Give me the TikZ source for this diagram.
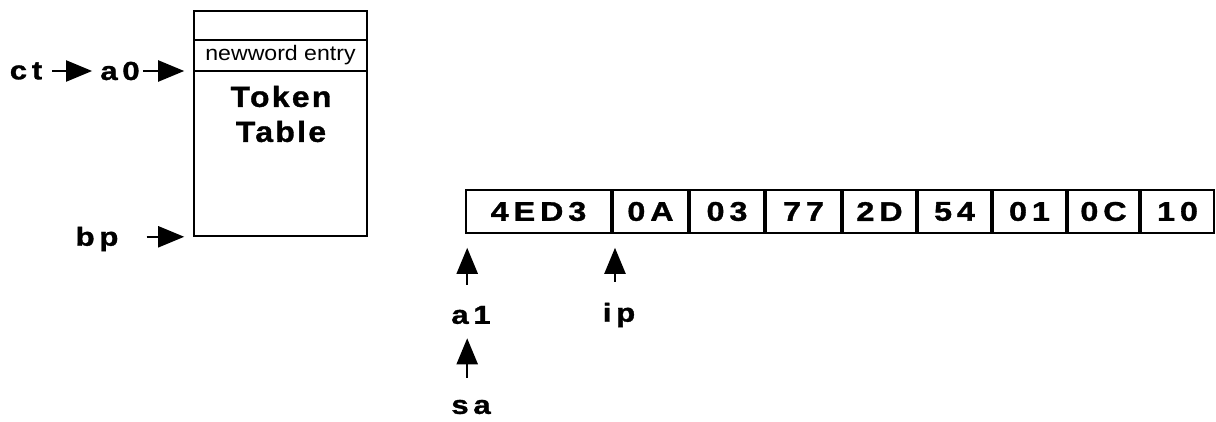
\documentclass[tikz,border=0pt]{standalone}
\usepackage{fontspec}
\setmainfont{Liberation Sans}
\newfontfamily\lblfont{Liberation Sans}[FakeStretch=1.2,LetterSpace=18,BoldFeatures={FakeBold=1.2}]
\newfontfamily\ttlfont{Liberation Sans}[FakeStretch=1.1,LetterSpace=8,BoldFeatures={FakeBold=1.2}]
\newfontfamily\nwfont{Liberation Sans}[FakeStretch=1.1]
\usetikzlibrary{arrows.meta,calc}
\begin{document}
\begin{tikzpicture}[x=1pt,y=-1pt,
  lbl/.style={inner sep=0pt,font=\lblfont\fontsize{26}{26}\selectfont\bfseries},
  box/.style={draw,line width=1.6pt,inner sep=0pt,minimum width=173pt},
  cell/.style={draw,line width=1.6pt,inner sep=0pt,minimum height=43pt,
    font=\lblfont\fontsize{27}{27}\selectfont\bfseries},
  arr/.style={-{Triangle[length=26pt,width=21pt]},line width=2.2pt}]
\useasboundingbox (0,0) rectangle (1216,422);

% token table: spare slot, newword entry, body
\node[box,minimum height=29pt] (t0) at (280.5,25.5) {};
\node[box,minimum height=31pt,font=\nwfont\fontsize{21}{21}\selectfont] (t1) at (280.5,55.5) {newword entry};
\node[box,minimum height=165pt] (t2) at (280.5,153.5) {};
\node[inner sep=0pt,align=center,font=\ttlfont\fontsize{29}{35}\selectfont\bfseries] (ttl) at (281,114) {Token\\Table};

% pointer labels
\node[lbl] (ct) at (26,71) {ct};
\node[lbl] (a0) at (120,71) {a0};
\node[lbl] (bp) at (97,239) {bp};
\node[lbl] (a1) at (471,315) {a1};
\node[lbl] (ip) at (619,315) {ip};
\node[lbl] (sa) at (471,407) {sa};

% instruction bytes, each in its own box
\node[cell,minimum width=145pt] (b0) at (538.5,211.5) {4ED3};
\node[cell,minimum width=75pt] (b1) at (650.5,211.5) {0A};
\node[cell,minimum width=74pt] (b2) at (727,211.5) {03};
\node[cell,minimum width=75pt] (b3) at (803.5,211.5) {77};
\node[cell,minimum width=73pt] (b4) at (879.5,211.5) {2D};
\node[cell,minimum width=73pt] (b5) at (954.5,211.5) {54};
\node[cell,minimum width=73pt] (b6) at (1029.5,211.5) {01};
\node[cell,minimum width=71pt] (b7) at (1103.5,211.5) {0C};
\node[cell,minimum width=73pt] (b8) at (1177.5,211.5) {10};

% pointers
\draw[arr,shorten <=10pt,shorten >=8pt] (ct.east) -- (a0.west);
\draw[arr,shorten <=3pt,shorten >=9pt] (a0.east) -- (a0.east -| t1.west);
\draw[arr,shorten <=28pt,shorten >=9pt] (bp.east |- t2.south west) -- (t2.south west);
\draw[arr] ($(a1.north -| b0.west)+(2,-21)$) -- ($(b0.south west)+(2,14)$);
\draw[arr] ($(ip.north)+(-4,-21)$) -- ($(ip.north |- b1.south)+(-4,14)$);
\draw[arr] ($(sa.north -| b0.west)+(2,-22)$) -- ($(a1.south -| b0.west)+(2,14)$);
\end{tikzpicture}
\end{document}
